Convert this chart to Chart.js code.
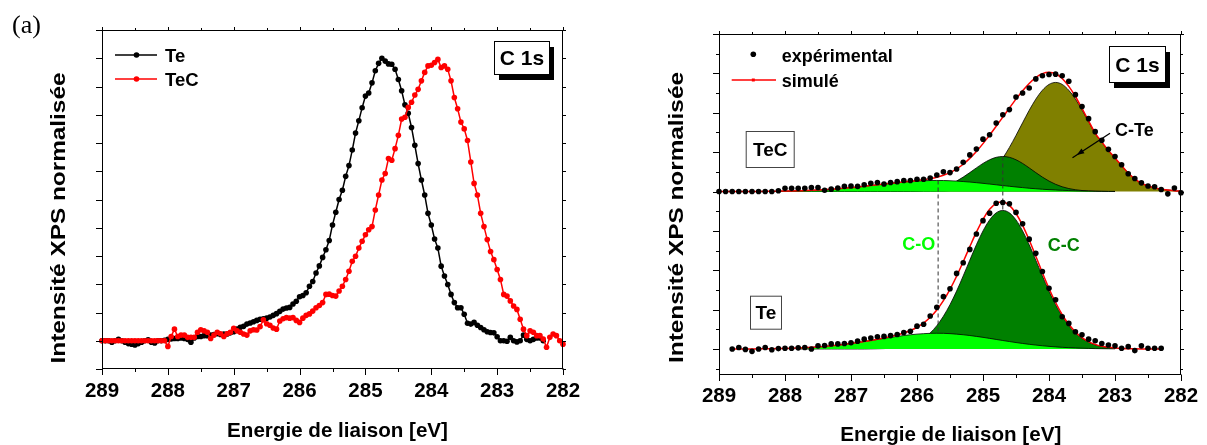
<!DOCTYPE html>
<html>
<head>
<meta charset="utf-8">
<script src="https://cdn.jsdelivr.net/npm/chart.js@4.4.1/dist/chart.umd.min.js"></script>
<style>
  body { margin: 0; background: #fff; width: 1207px; height: 445px; position: relative; overflow: hidden; }
  canvas { position: absolute; top: 0; }
  #ca { left: 0; }
  #cb { left: 600px; }
</style>
</head>
<body>
<canvas id="ca" width="600" height="445"></canvas>
<canvas id="cb" width="607" height="445"></canvas>
<script>
// (a) gauche : spectres C 1s bruts, pas de 0.05 eV
const energyA = [
  289,288.95,288.9,288.85,288.8,288.75,288.7,288.65,288.6,288.55,288.5,288.45,288.4,288.35,288.3,288.25,288.2,288.15,288.1,288.05,
  288,287.95,287.9,287.85,287.8,287.75,287.7,287.65,287.6,287.55,287.5,287.45,287.4,287.35,287.3,287.25,287.2,287.15,287.1,287.05,
  287,286.95,286.9,286.85,286.8,286.75,286.7,286.65,286.6,286.55,286.5,286.45,286.4,286.35,286.3,286.25,286.2,286.15,286.1,286.05,
  286,285.95,285.9,285.85,285.8,285.75,285.7,285.65,285.6,285.55,285.5,285.45,285.4,285.35,285.3,285.25,285.2,285.15,285.1,285.05,
  285,284.95,284.9,284.85,284.8,284.75,284.7,284.65,284.6,284.55,284.5,284.45,284.4,284.35,284.3,284.25,284.2,284.15,284.1,284.05,
  284,283.95,283.9,283.85,283.8,283.75,283.7,283.65,283.6,283.55,283.5,283.45,283.4,283.35,283.3,283.25,283.2,283.15,283.1,283.05,
  283,282.95,282.9,282.85,282.8,282.75,282.7,282.65,282.6,282.55,282.5,282.45,282.4,282.35,282.3,282.25,282.2,282.15,282.1,282.05,
  282
];
const teA = [
  0,0,0,-0.005,0,0.005,0,-0.005,-0.01,-0.012,-0.015,-0.01,-0.005,0,0.003,-0.005,-0.008,0,0,0.002,
  0.005,0.006,0.008,0.008,0.01,0.008,0.005,-0.005,0.01,0.015,0.015,0.018,0.018,0.02,0.022,0.025,0.022,0.024,0.024,0.028,
  0.032,0.041,0.048,0.051,0.059,0.063,0.067,0.072,0.076,0.078,0.08,0.084,0.09,0.096,0.104,0.112,0.116,0.118,0.13,0.14,
  0.156,0.16,0.17,0.193,0.21,0.24,0.265,0.295,0.322,0.355,0.41,0.455,0.5,0.533,0.582,0.62,0.675,0.735,0.779,0.825,
  0.866,0.877,0.913,0.956,0.982,1,0.99,0.98,0.979,0.961,0.925,0.885,0.835,0.805,0.755,0.692,0.627,0.569,0.516,0.451,
  0.41,0.36,0.328,0.264,0.229,0.199,0.164,0.135,0.117,0.117,0.094,0.062,0.059,0.065,0.055,0.047,0.039,0.032,0.029,0.028,
  0.014,0,0,-0.002,0.012,0,-0.004,0,0.02,0.005,0,0.005,0.01,0.01,0,null,null,null,null,null,
  null
];
const tecA = [
  0,0,0,0,0,0,0,0,0,0,0,0,0,0,0,0,0,0,0,0,
  -0.02,0.015,0.041,0.015,0.02,0.02,0.012,0.012,0.012,0.03,0.039,0.035,0.03,0.008,0.02,0.03,0.025,0.015,0.025,0.03,
  0.044,0.035,0.03,0.024,0.02,0.035,0.039,0.038,0.05,0.074,0.06,0.055,0.045,0.041,0.07,0.078,0.082,0.08,0.082,0.072,
  0.065,0.08,0.09,0.095,0.105,0.117,0.125,0.135,0.164,0.165,0.16,0.158,0.176,0.193,0.217,0.246,0.281,0.299,0.328,0.352,
  0.375,0.393,0.404,0.463,0.516,0.569,0.592,0.645,0.639,0.68,0.727,0.785,0.791,0.826,0.844,0.87,0.89,0.92,0.95,0.973,
  0.975,0.985,0.996,0.967,0.973,0.961,0.92,0.861,0.821,0.774,0.75,0.709,0.633,0.557,0.516,0.451,0.404,0.358,0.316,0.287,
  0.252,0.217,0.164,0.158,0.141,0.123,0.111,0.076,0.041,0.018,0.035,0.03,0.018,0.018,0.006,-0.023,0.012,0.024,0.018,0,
  -0.012
];

// (b) droite : décomposition, pas de 0.1 eV ; TeC décalé de tecBase
const energyB = [
  289,288.9,288.8,288.7,288.6,288.5,288.4,288.3,288.2,288.1,
  288,287.9,287.8,287.7,287.6,287.5,287.4,287.3,287.2,287.1,
  287,286.9,286.8,286.7,286.6,286.5,286.4,286.3,286.2,286.1,
  286,285.9,285.8,285.7,285.6,285.5,285.4,285.3,285.2,285.1,
  285,284.9,284.8,284.7,284.6,284.5,284.4,284.3,284.2,284.1,
  284,283.9,283.8,283.7,283.6,283.5,283.4,283.3,283.2,283.1,
  283,282.9,282.8,282.7,282.6,282.5,282.4,282.3,282.2,282.1,
  282
];
const teExp = [
  null,null,0,0.04,-0.01,-0.06,0,0.04,-0.02,0.01,
  0.02,0.02,0.03,0.04,0,0.08,0.09,0.13,0.13,0.14,
  0.16,0.2,0.25,0.28,0.31,0.32,0.34,0.37,0.42,0.45,
  0.58,0.63,0.84,1.06,1.33,1.53,1.92,2.19,2.53,2.92,
  3.26,3.45,3.7,3.72,3.69,3.47,3.18,2.79,2.43,1.97,
  1.54,1.25,0.82,0.65,0.44,0.36,0.25,0.21,0.14,0.1,
  0.08,0.02,0.06,-0.04,0.08,0.02,0.02,0.02,null,null,
  null
];
const teFit = [
  null,null,0.001,0.001,0.002,0.003,0.004,0.006,0.008,0.011,
  0.015,0.02,0.026,0.034,0.043,0.054,0.067,0.082,0.1,0.119,
  0.141,0.164,0.191,0.219,0.249,0.281,0.317,0.357,0.407,0.469,
  0.552,0.661,0.806,0.993,1.23,1.517,1.849,2.217,2.599,2.968,
  3.295,3.548,3.701,3.736,3.648,3.442,3.14,2.767,2.356,1.937,
  1.538,1.181,0.875,0.627,0.434,0.291,0.189,0.118,0.072,0.043,
  0.025,0.014,0.008,0.004,0.002,0.001,0,0,null,null,
  null
];
const teCO = [
  null,null,null,null,null,null,null,null,null,null,
  null,null,0.026,0.034,0.043,0.054,0.067,0.082,0.1,0.119,
  0.141,0.164,0.19,0.216,0.243,0.27,0.296,0.32,0.343,0.362,
  0.378,0.39,0.398,0.4,0.398,0.39,0.378,0.362,0.343,0.32,
  0.296,0.27,0.243,0.216,0.19,0.164,0.141,0.119,0.1,0.082,
  0.067,0.054,0.043,0.034,0.026,0.02,0.015,0.011,0.008,0.006,
  0.004,null,null,null,null,null,null,null,null,null,
  null
];
const teCC = [
  null,null,null,null,null,null,null,null,null,null,
  null,null,0,0,0,0,0,0,0,0,
  0,0,0,0.003,0.006,0.011,0.021,0.037,0.064,0.107,
  0.174,0.271,0.408,0.593,0.832,1.127,1.471,1.855,2.256,2.648,
  2.999,3.278,3.458,3.52,3.458,3.278,2.999,2.648,2.256,1.855,
  1.471,1.127,0.832,0.593,0.408,0.271,0.174,0.107,0.064,0.037,
  0.021,null,null,null,null,null,null,null,null,null,
  null
];
const tecBase = 4;
const tecExp = [
  0,0,0,0,0,0,0,0,0,0.02,
  0.08,0.08,0.08,0.08,0.1,0.1,0.03,0.06,0.09,0.13,
  0.14,0.13,0.17,0.21,0.23,0.19,0.23,0.25,0.28,0.28,
  0.31,0.31,0.34,0.42,0.5,0.48,0.57,0.74,0.93,1.08,
  1.33,1.44,1.74,1.95,2.08,2.4,2.5,2.63,2.86,2.94,
  2.97,2.98,2.94,2.8,2.46,2.16,1.85,1.52,1.3,1.07,
  0.89,0.68,0.45,0.33,0.22,0.14,0.12,0.05,-0.06,0.09,
  -0.03
];
const tecFit = [
  0,0,0,0,0.001,0.002,0.003,0.004,0.006,0.008,
  0.011,0.014,0.018,0.024,0.03,0.038,0.047,0.057,0.07,0.083,
  0.099,0.115,0.133,0.151,0.17,0.189,0.207,0.224,0.243,0.26,
  0.279,0.3,0.327,0.362,0.412,0.48,0.573,0.693,0.842,1.017,
  1.216,1.431,1.657,1.889,2.12,2.345,2.557,2.744,2.895,2.995,
  3.031,2.991,2.87,2.669,2.413,2.109,1.795,1.485,1.259,1.044,
  0.853,0.66,0.47,0.32,0.21,0.14,0.09,0.06,0.04,0.02,
  0.01
];
const tecCO = [
  null,null,null,null,null,null,null,null,null,0.008,
  0.011,0.014,0.018,0.024,0.03,0.038,0.047,0.057,0.07,0.083,
  0.099,0.115,0.133,0.151,0.17,0.189,0.207,0.224,0.24,0.253,
  0.265,0.273,0.279,0.28,0.279,0.273,0.265,0.253,0.24,0.224,
  0.207,0.189,0.17,0.151,0.133,0.115,0.099,0.083,0.07,0.057,
  0.047,0.038,0.03,0.024,0.018,0.014,0.011,0.008,0.006,0.004,
  0.003,null,null,null,null,null,null,null,null,null,
  null
];
const tecCC = [
  null,null,null,null,null,null,null,null,null,0,
  0,0,0,0,0,0,0,0,0,0,
  0,0,0,0,0,0,0,0,0.003,0.007,
  0.014,0.025,0.045,0.075,0.12,0.183,0.265,0.366,0.48,0.6,
  0.713,0.806,0.868,0.89,0.868,0.806,0.713,0.6,0.48,0.366,
  0.265,0.183,0.12,0.075,0.045,0.025,0.014,0.007,0.003,0,
  0,null,null,null,null,null,null,null,null,null,
  null
];
const tecCTe = [
  null,null,null,null,null,null,null,null,null,0,
  0,0,0,0,0,0,0,0,0,0,
  0,0,0,0,0,0,0,0,0,0,
  0.001,0.002,0.003,0.007,0.013,0.024,0.043,0.074,0.122,0.193,
  0.296,0.436,0.619,0.848,1.119,1.424,1.745,2.061,2.345,2.572,
  2.719,2.77,2.72,2.57,2.35,2.07,1.77,1.47,1.25,1.04,
  0.85,0.66,0.47,0.32,0.21,0.14,0.09,0.06,0.04,0.02,
  0.01
];
// lignes pointillées : position des pics C-O et C-C
const guideCO = [285.68, 4.28, 0.45];
const guideCC = [284.70, 4.89, 3.52];

const FONT = '"Liberation Sans", Arial, Helvetica, sans-serif';

function pts(xs, ys, base) {
  return xs.map((e, i) => ({ x: e, y: ys[i] === null ? null : ys[i] + (base || 0) }));
}

// cadre + graduations sur les 4 côtés
const frameTicks = {
  id: 'frameTicks',
  afterDatasetsDraw(chart, args, o) {
    const { ctx, chartArea: a, scales: { x, y } } = chart;
    const L = Math.round(a.left) + 0.5, R = Math.round(a.right) - 0.5;
    const T = Math.round(a.top) + 0.5, B = Math.round(a.bottom) - 0.5;
    ctx.save();
    ctx.strokeStyle = '#000';
    ctx.lineWidth = 1;
    ctx.strokeRect(L, T, R - L, B - T);
    ctx.beginPath();
    let n = Math.round((x.max - x.min) / o.xStep);
    for (let i = 0; i <= n; i++) {
      const v = x.min + i * o.xStep;
      const p = Math.round(x.getPixelForValue(v)) + 0.5;
      const big = Math.abs(v / o.xMajor - Math.round(v / o.xMajor)) < 1e-6;
      ctx.moveTo(p, B); ctx.lineTo(p, B + (big ? 6.5 : 3.5));
      ctx.moveTo(p, T); ctx.lineTo(p, T - (big ? 3.5 : 2.5));
    }
    n = Math.round((o.yTo - o.yFrom) / o.yStep);
    for (let i = 0; i <= n; i++) {
      const v = o.yFrom + i * o.yStep;
      const p = Math.round(y.getPixelForValue(v)) + 0.5;
      const big = Math.abs(v / o.yMajor - Math.round(v / o.yMajor)) < 1e-6;
      ctx.moveTo(L, p); ctx.lineTo(L - (big ? 6.5 : 3.5), p);
      ctx.moveTo(R, p); ctx.lineTo(R + (big ? 3.5 : 2.5), p);
    }
    ctx.stroke();
    ctx.restore();
  }
};

function boxText(ctx, x, y, w, h, label, size, shadow) {
  if (shadow) {
    ctx.fillStyle = '#000';
    ctx.fillRect(x + 5, y + 6, w, h);
  }
  ctx.fillStyle = '#fff';
  ctx.fillRect(x, y, w, h);
  ctx.strokeStyle = shadow ? '#000' : '#444';
  ctx.lineWidth = 1;
  ctx.strokeRect(x + 0.5, y + 0.5, w, h);
  ctx.fillStyle = '#000';
  ctx.font = 'bold ' + size + 'px ' + FONT;
  ctx.textAlign = 'center';
  ctx.textBaseline = 'alphabetic';
  ctx.fillText(label, x + w / 2 + 0.5, y + h / 2 + size * 0.358);
}

function yTitle(ctx, text, bx, cy, size, len) {
  ctx.save();
  ctx.font = 'bold ' + size + 'px ' + FONT;
  const k = len / ctx.measureText(text).width;
  ctx.translate(bx, cy);
  ctx.rotate(-Math.PI / 2);
  ctx.scale(k, 1);
  ctx.textAlign = 'center';
  ctx.textBaseline = 'alphabetic';
  ctx.fillStyle = '#000';
  ctx.fillText(text, 0, 0);
  ctx.restore();
}

function xTitle(ctx, text, cx, by) {
  ctx.font = 'bold 20.6px ' + FONT;
  ctx.textAlign = 'center';
  ctx.textBaseline = 'alphabetic';
  ctx.fillStyle = '#000';
  ctx.fillText(text, cx, by);
}

function legendRow(ctx, y, color, label, by) {
  ctx.strokeStyle = color;
  ctx.lineWidth = 1.4;
  ctx.beginPath(); ctx.moveTo(115, y); ctx.lineTo(157, y); ctx.stroke();
  ctx.fillStyle = color;
  ctx.beginPath(); ctx.arc(136.5, y, 2.8, 0, Math.PI * 2); ctx.fill();
  ctx.fillStyle = '#000';
  ctx.font = 'bold 18.5px ' + FONT;
  ctx.textAlign = 'left';
  ctx.fillText(label, 165, by);
}

const decorA = {
  id: 'decorA',
  afterDraw(chart) {
    const ctx = chart.ctx;
    ctx.save();
    ctx.fillStyle = '#000';
    ctx.font = '26px "Liberation Serif", "Times New Roman", serif';
    ctx.textAlign = 'left';
    ctx.textBaseline = 'alphabetic';
    ctx.fillText('(a)', 12, 33);
    legendRow(ctx, 55, '#000', 'Te', 62);
    legendRow(ctx, 79, '#ff0000', 'TeC', 86);
    boxText(ctx, 494, 41, 55, 33, 'C 1s', 21, true);
    xTitle(ctx, 'Energie de liaison [eV]', 337.5, 436.7);
    yTitle(ctx, 'Intensité XPS normalisée', 65, 218, 21, 291);
    ctx.restore();
  }
};

const decorB = {
  id: 'decorB',
  afterDraw(chart) {
    const ctx = chart.ctx;
    ctx.save();
    ctx.textBaseline = 'alphabetic';
    ctx.textAlign = 'left';
    // légende
    ctx.fillStyle = '#000';
    ctx.beginPath(); ctx.arc(153.3, 54.3, 2.8, 0, Math.PI * 2); ctx.fill();
    ctx.strokeStyle = '#ff0000';
    ctx.lineWidth = 1.3;
    ctx.beginPath(); ctx.moveTo(131.7, 80); ctx.lineTo(176, 80); ctx.stroke();
    ctx.fillStyle = '#ff0000';
    ctx.fillRect(151.8, 78.5, 3, 3);
    ctx.fillStyle = '#000';
    ctx.font = 'bold 18px ' + FONT;
    ctx.fillText('expérimental', 181.7, 61.5);
    ctx.fillText('simulé', 181.7, 86.5);
    boxText(ctx, 509, 46, 56, 36, 'C 1s', 21, true);
    boxText(ctx, 145.7, 131, 48, 36, 'TeC', 19, false);
    boxText(ctx, 150, 295.7, 31, 33, 'Te', 19, false);
    // étiquettes des composantes
    ctx.textAlign = 'left';
    ctx.font = 'bold 18px ' + FONT;
    ctx.fillStyle = '#000';
    ctx.fillText('C-Te', 515, 136);
    ctx.fillStyle = '#00ff00';
    ctx.fillText('C-O', 302.3, 250);
    ctx.fillStyle = '#008000';
    ctx.fillText('C-C', 447.7, 250.7);
    // flèche C-Te
    const x0 = 510, y0 = 133.3, x1 = 476.7, y1 = 155;
    const ang = Math.atan2(y1 - y0, x1 - x0);
    ctx.strokeStyle = '#000';
    ctx.lineWidth = 1.3;
    ctx.beginPath(); ctx.moveTo(x0, y0); ctx.lineTo(x1 + 5 * Math.cos(ang), y1 + 5 * Math.sin(ang)); ctx.stroke();
    ctx.fillStyle = '#000';
    ctx.beginPath();
    ctx.moveTo(x1, y1);
    ctx.lineTo(x1 - 8 * Math.cos(ang - 0.35), y1 - 8 * Math.sin(ang - 0.35));
    ctx.lineTo(x1 - 8 * Math.cos(ang + 0.35), y1 - 8 * Math.sin(ang + 0.35));
    ctx.closePath(); ctx.fill();
    xTitle(ctx, 'Energie de liaison [eV]', 350.8, 441);
    yTitle(ctx, 'Intensité XPS normalisée', 83.3, 217.5, 21, 291);
    ctx.restore();
  }
};

function axes(yMin, yMax, yWidth, xHeight, pad) {
  return {
    x: {
      type: 'linear', min: 282, max: 289, reverse: true,
      grid: { display: false, drawTicks: false },
      border: { display: false },
      ticks: { stepSize: 1, padding: pad, color: '#000', font: { family: FONT, size: 20.5, weight: 'bold' } },
      afterFit(s) { s.height = xHeight; s.paddingLeft = 0; s.paddingRight = 0; }
    },
    y: {
      type: 'linear', min: yMin, max: yMax,
      grid: { display: false, drawTicks: false },
      border: { display: false },
      ticks: { display: false },
      afterFit(s) { s.width = yWidth; s.paddingTop = 0; s.paddingBottom = 0; }
    }
  };
}

const common = {
  responsive: false,
  animation: false,
  devicePixelRatio: 1,
  events: [],
  plugins: { legend: { display: false }, tooltip: { enabled: false } }
};

new Chart(document.getElementById('ca'), {
  type: 'line',
  data: {
    datasets: [
      { label: 'TeC', data: pts(energyA, tecA), borderColor: '#ff0000', backgroundColor: '#ff0000',
        borderWidth: 1.5, pointRadius: 2.8, pointBorderWidth: 0, tension: 0, clip: false, order: 0 },
      { label: 'Te', data: pts(energyA, teA), borderColor: '#000', backgroundColor: '#000',
        borderWidth: 1.5, pointRadius: 2.8, pointBorderWidth: 0, tension: 0, clip: false, order: 1 }
    ]
  },
  options: Object.assign({}, common, {
    layout: { padding: { left: 0, right: 37, top: 30, bottom: 0 } },
    scales: axes(-0.1, 1.1, 102, 76, 10.5),
    plugins: Object.assign({}, common.plugins, {
      frameTicks: { xStep: 0.5, xMajor: 1, yFrom: -0.1, yTo: 1.1, yStep: 0.1, yMajor: 0.1 }
    })
  }),
  plugins: [frameTicks, decorA]
});

function comp(data, base, fillColor, order) {
  return {
    data: pts(energyB, data, base), fill: { value: base }, backgroundColor: fillColor,
    borderColor: '#000', borderWidth: 0.8, pointRadius: 0, cubicInterpolationMode: 'monotone', order: order
  };
}
function fit(data, base) {
  return {
    data: pts(energyB, data, base), borderColor: '#ff0000', borderWidth: 1.5, pointRadius: 0,
    fill: false, cubicInterpolationMode: 'monotone', order: 1
  };
}
function dots(data, base) {
  return {
    data: pts(energyB, data, base), showLine: false, pointRadius: 2.8, pointBorderWidth: 0,
    backgroundColor: '#000', borderColor: '#000', clip: false, order: 0
  };
}
function guide(g) {
  return {
    data: [{ x: g[0], y: g[1] }, { x: g[0], y: g[2] }], borderColor: '#333', borderWidth: 1,
    borderDash: [4, 3], pointRadius: 0, fill: false, order: 2
  };
}

new Chart(document.getElementById('cb'), {
  type: 'line',
  data: {
    datasets: [
      dots(teExp, 0), dots(tecExp, tecBase),
      fit(teFit, 0), fit(tecFit, tecBase),
      guide(guideCO), guide(guideCC),
      comp(teCO, 0, '#00ff00', 3), comp(tecCO, tecBase, '#00ff00', 3),
      comp(teCC, 0, '#008000', 4), comp(tecCC, tecBase, '#008000', 4),
      comp(tecCTe, tecBase, '#808000', 5)
    ]
  },
  options: Object.assign({}, common, {
    layout: { padding: { left: 0, right: 26, top: 34, bottom: 0 } },
    scales: axes(-0.66, 8, 119, 70, 9.5),
    plugins: Object.assign({}, common.plugins, {
      frameTicks: { xStep: 0.5, xMajor: 1, yFrom: -0.5, yTo: 8, yStep: 0.5, yMajor: 1 }
    })
  }),
  plugins: [frameTicks, decorB]
});
</script>
</body>
</html>
